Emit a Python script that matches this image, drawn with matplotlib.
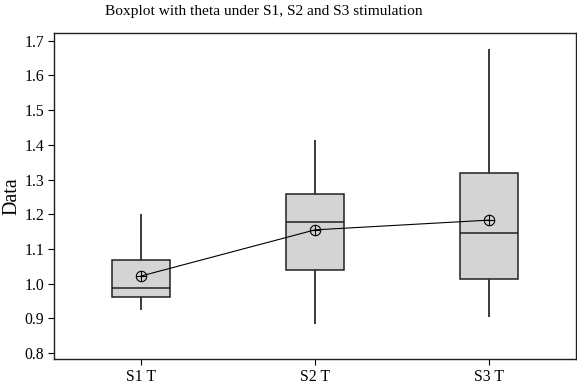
import matplotlib
matplotlib.use("Agg")
import matplotlib.pyplot as plt

plt.rcParams['font.family'] = ['Liberation Serif', 'DejaVu Serif']

# boxplot summaries
groups = ['S1 T', 'S2 T', 'S3 T']
whislo = [0.926, 0.886, 0.907]
q1 = [0.962, 1.040, 1.013]
med = [0.987, 1.177, 1.145]
q3 = [1.068, 1.258, 1.320]
whishi = [1.198, 1.412, 1.672]
means = [1.022, 1.155, 1.183]

stats = []
for i, g in enumerate(groups):
    stats.append(dict(label=g, whislo=whislo[i], q1=q1[i], med=med[i],
                      q3=q3[i], whishi=whishi[i], mean=means[i], fliers=[]))

fig = plt.figure(figsize=(5.77, 3.86), dpi=100)
ax = fig.add_axes([54/577, 1 - 359/386, 522/577, 326/386])

pos = [1, 2, 3]
ax.bxp(stats, positions=pos, widths=0.33, patch_artist=True,
       showcaps=False, showmeans=False,
       boxprops=dict(facecolor='#d4d4d4', edgecolor='#202020', lw=1.1),
       medianprops=dict(color='#202020', lw=1.1),
       whiskerprops=dict(color='#3a3a3a', lw=1.4))

# mean connect line with circle-plus markers
ax.plot(pos, means, color='black', lw=0.8, zorder=4)
ax.plot(pos, means, ls='none', marker='o', ms=7.5, mfc='none', mec='black',
        mew=0.8, zorder=5)
ax.plot(pos, means, ls='none', marker='+', ms=7.5, mec='black', mew=0.8,
        zorder=5)

ax.set_xlim(0.5, 3.5)
ax.set_ylim(0.783, 1.722)
ax.set_yticks([0.8, 0.9, 1.0, 1.1, 1.2, 1.3, 1.4, 1.5, 1.6, 1.7])
ax.set_yticklabels(['0.8', '0.9', '1.0', '1.1', '1.2', '1.3', '1.4', '1.5',
                    '1.6', '1.7'])
ax.set_xticks(pos)
ax.set_xticklabels(groups)
ax.tick_params(direction='out', length=4, width=0.8, labelsize=11.3,
               colors='black', pad=3)
for s in ax.spines.values():
    s.set_linewidth(1.0)
    s.set_color('#202020')

ax.set_ylabel('Data', fontsize=14.5, labelpad=2)
fig.text(0.457, 1 - 11/386, 'Boxplot with theta under S1, S2 and S3 stimulation',
         ha='center', va='center', fontsize=11.1)

fig.savefig('out.png', dpi=100)
